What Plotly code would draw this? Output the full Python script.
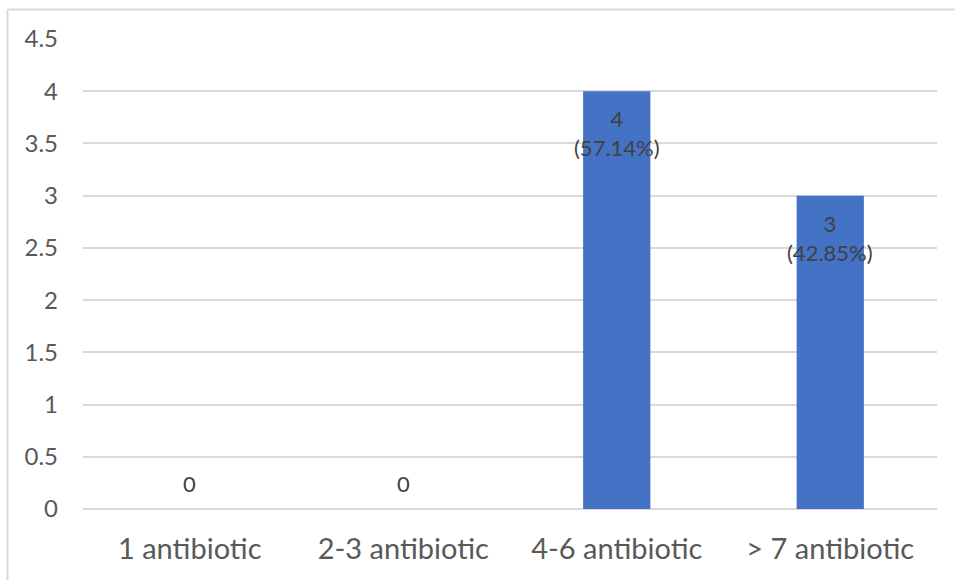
import plotly.graph_objects as go

categories = ["1 antibiotic", "2-3 antibiotic", "4-6 antibiotic", "> 7 antibiotic"]
counts = [0, 0, 4, 3]
percent_labels = ["", "", "(57.14%)", "(42.85%)"]
y_ticks = [0, 0.5, 1, 1.5, 2, 2.5, 3, 3.5, 4, 4.5]

BAR_COLOR = "#4472C4"
GRID = "#D9D9D9"
FONT = "Lato"

fig = go.Figure()
fig.add_trace(go.Bar(
    x=categories,
    y=counts,
    marker=dict(color=BAR_COLOR, line=dict(width=0)),
    width=0.315,
    hoverinfo="x+y",
))

# Data labels: inside the top of non-zero bars, just above the baseline for zeros
for cat, val, pct in zip(categories, counts, percent_labels):
    text = f"{val}<br>{pct}" if pct else f"{val}"
    fig.add_annotation(
        x=cat, y=val, text=text, showarrow=False,
        yanchor="top" if val > 0 else "bottom",
        yshift=-12 if val > 0 else 10,
        font=dict(family=FONT, size=22, color="#404040"),
    )

# Light chart-area frame (left and top edges)
frame = dict(type="line", xref="paper", yref="paper", line=dict(color=GRID, width=2))
fig.add_shape(**frame, x0=-0.0884, x1=-0.0884, y0=1.0628, y1=-0.16)
fig.add_shape(**frame, x0=-0.0884, x1=1.03, y0=1.0628, y1=1.0628)

fig.update_layout(
    width=955, height=580,
    margin=dict(l=83, r=18, t=39, b=71),
    paper_bgcolor="white", plot_bgcolor="white",
    showlegend=False,
    font=dict(family=FONT, color="#595959"),
    bargap=0.685,
)
fig.update_xaxes(
    showgrid=False, showline=False, zeroline=False,
    ticks="", ticklabelstandoff=20,
    tickfont=dict(family=FONT, size=29, color="#595959"),
)
fig.update_yaxes(
    range=[0, 4.5], tickvals=y_ticks, ticktext=[f"{v:g}" for v in y_ticks],
    showgrid=True, gridcolor=GRID, gridwidth=1.5,
    zeroline=True, zerolinecolor=GRID, zerolinewidth=1.5,
    showline=False, ticks="", ticklabelstandoff=24,
    tickfont=dict(family=FONT, size=24, color="#595959"),
)

fig.write_html("out.html")
